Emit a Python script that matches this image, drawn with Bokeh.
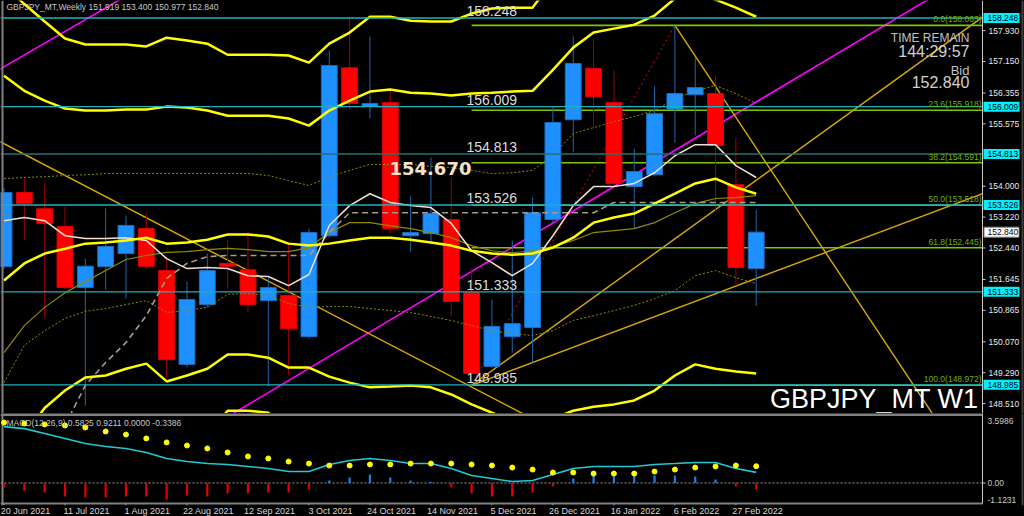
import math
from bokeh.plotting import figure
from bokeh.models import Range1d, FixedTicker, Label, ColumnDataSource
from bokeh.layouts import column
from bokeh.embed import file_html
from bokeh.resources import INLINE
from bokeh.core.properties import value

NaN = float("nan")

# ---------------- data (weekly GBPJPY, 20 Jun 2021 .. 6 Mar 2022) ----------------
date_tick_labels = ["20 Jun 2021", "11 Jul 2021", "1 Aug 2021", "22 Aug 2021", "12 Sep 2021",
                    "3 Oct 2021", "24 Oct 2021", "14 Nov 2021", "5 Dec 2021", "26 Dec 2021",
                    "16 Jan 2022", "6 Feb 2022", "27 Feb 2022"]

opens = [151.97, 153.84, 153.43, 152.98, 151.44, 151.97, 152.30, 152.93, 151.87, 149.50,
         151.01, 152.05, 151.89, 151.11, 151.24, 150.20, 152.75, 156.99, 156.01, 156.11,
         152.75, 152.80, 153.16, 151.31, 149.45, 150.20, 150.43, 153.16, 155.68, 156.97,
         156.11, 153.99, 154.29, 155.94, 156.31, 156.34, 154.04, 151.919]
highs = [153.95, 154.22, 154.07, 153.49, 152.17, 153.44, 153.26, 153.31, 152.20, 151.59,
         152.30, 152.65, 152.85, 151.69, 152.55, 152.93, 157.43, 158.23, 157.78, 156.47,
         153.74, 154.72, 154.22, 151.92, 151.14, 152.63, 153.71, 156.01, 157.78, 157.73,
         156.92, 154.95, 156.52, 158.063, 157.25, 156.79, 155.23, 153.400]
lows = [151.90, 152.63, 150.68, 151.40, 148.46, 151.39, 151.16, 151.92, 149.17, 149.42,
        150.94, 151.41, 150.81, 148.94, 149.22, 150.15, 152.70, 155.94, 155.71, 152.80,
        152.35, 152.53, 150.71, 148.972, 149.42, 149.80, 149.55, 153.06, 154.87, 155.48,
        154.02, 152.93, 154.25, 155.10, 155.28, 153.39, 151.49, 150.977]
closes = [153.84, 153.56, 153.06, 151.44, 151.98, 152.48, 153.01, 151.98, 149.62, 151.14,
          151.87, 151.98, 151.01, 151.44, 150.40, 152.83, 157.05, 156.09, 156.09, 152.93,
          152.83, 153.31, 151.09, 149.27, 150.46, 150.53, 153.33, 155.61, 157.10, 156.26,
          154.07, 154.37, 155.83, 156.34, 156.49, 155.03, 151.95, 152.840]

bb3_upper = [159.07, 158.60, 158.16, 157.73, 157.58, 157.58, 157.58, 157.53, 157.75, 157.68,
             157.60, 157.32, 157.32, 157.32, 157.30, 157.12, 157.60, 157.88, 158.28, 158.28,
             158.18, 158.16, 158.16, 158.36, 158.49, 158.51, 158.51, 159.20, 160.00, 160.50,
             160.70, 160.80, 160.90, 161.10, 161.20, 161.00, 160.60, 160.20]
bb3_lower = [144.1, 145.5, 146.5, 147.1, 147.5, 147.6, 147.7, 147.9, 147.4, 147.5,
             147.7, 148.33, 148.33, 148.28, 147.8, 147.9, 147.5, 147.4, 147.1, 147.1,
             147.1, 147.0, 146.8, 146.4, 146.1, 146.0, 146.1, 145.7, 145.4, 145.7,
             145.7, 145.8, 146.2, 146.5, 146.9, 147.4, 147.3, 147.4]
bb2_upper = [156.79, 156.41, 156.16, 155.96, 155.91, 155.91, 155.94, 155.94, 156.01, 155.99,
             155.91, 155.78, 155.78, 155.78, 155.71, 155.53, 155.91, 156.16, 156.39, 156.44,
             156.36, 156.34, 156.29, 156.34, 156.36, 156.39, 156.41, 156.94, 157.50, 157.88,
             157.98, 158.08, 158.31, 158.74, 158.89, 158.71, 158.51, 158.28]
bb_mid = [151.62, 152.05, 152.30, 152.42, 152.55, 152.58, 152.63, 152.70, 152.55, 152.58,
          152.65, 152.78, 152.78, 152.73, 152.55, 152.50, 152.55, 152.63, 152.70, 152.70,
          152.65, 152.58, 152.50, 152.37, 152.30, 152.27, 152.30, 152.45, 152.70, 153.08,
          153.21, 153.31, 153.56, 153.81, 154.07, 154.19, 153.97, 153.81]
bb2_lower = [146.50, 147.70, 148.40, 148.84, 149.17, 149.22, 149.39, 149.52, 149.07, 149.22,
             149.39, 149.75, 149.75, 149.67, 149.42, 149.42, 149.19, 149.04, 148.92, 148.94,
             148.97, 148.92, 148.74, 148.49, 148.28, 148.08, 147.96, 148.13, 148.33, 148.43,
             148.49, 148.59, 148.84, 149.22, 149.50, 149.39, 149.32, 149.27]
bb1_upper = [154.19, 154.22, 154.24, 154.27, 154.29, 154.32, 154.32, 154.32, 154.32, 154.32,
             154.32, 154.32, 154.32, 154.27, 154.14, 154.02, 154.24, 154.40, 154.55, 154.55,
             154.55, 154.50, 154.47, 154.40, 154.32, 154.34, 154.40, 154.77, 155.33, 155.48,
             155.63, 155.76, 155.91, 156.21, 156.41, 156.54, 156.34, 156.09]
bb1_lower = [149.04, 149.98, 150.35, 150.66, 150.84, 150.91, 151.01, 151.11, 150.81, 150.86,
             150.94, 151.27, 151.29, 151.24, 151.04, 150.94, 150.96, 150.96, 150.91, 150.86,
             150.81, 150.71, 150.61, 150.48, 150.35, 150.28, 150.23, 150.35, 150.61, 150.73,
             150.86, 150.99, 151.16, 151.36, 151.74, 151.87, 151.69, 151.54]
ma_slow = [149.80, 150.48, 150.94, 151.31, 151.59, 151.87, 152.15, 152.25, 152.33, 152.35,
           152.40, 152.43, 152.40, 152.35, 152.35, 152.45, 152.83, 153.08, 153.08, 153.00,
           152.93, 152.83, 152.70, 152.50, 152.37, 152.32, 152.37, 152.48, 152.63, 152.83,
           152.88, 152.93, 153.08, 153.33, 153.56, 153.69, 153.71, 153.76]
ma_fast = [153.13, 153.21, 153.13, 152.75, 152.68, 152.68, 152.70, 152.63, 152.17, 151.92,
           151.95, 151.92, 151.74, 151.72, 151.49, 151.77, 153.01, 153.51, 153.81, 153.59,
           153.51, 153.46, 153.06, 152.37, 152.07, 151.74, 152.05, 152.75, 153.51, 153.99,
           153.99, 154.07, 154.34, 154.77, 155.05, 155.05, 154.52, 154.22]
kijun = [NaN, NaN, NaN, 147.96, 148.97, 149.55, 150.05, 150.73, 151.67, 152.05,
         152.22, 152.25, 152.25, 152.25, 152.25, 152.25, 152.83, 153.33, 153.33, 153.33,
         153.33, 153.33, 153.33, 153.33, 153.33, 153.33, 153.33, 153.33, 153.33, 153.33,
         153.59, 153.59, 153.59, 153.59, 153.59, 153.59, 153.59, 153.59]

macd_main = [3.10, 2.99, 2.72, 2.45, 2.17, 2.01, 1.90, 1.68, 1.35, 1.18,
             1.07, 1.02, 0.91, 0.80, 0.63, 0.63, 1.02, 1.24, 1.35, 1.24,
             1.07, 1.07, 0.80, 0.41, 0.25, 0.08, 0.14, 0.47, 0.80, 0.91,
             0.91, 0.91, 1.02, 1.07, 1.13, 1.13, 0.80, 0.5825]
macd_signal = [3.32, 3.27, 3.22, 3.16, 3.05, 2.83, 2.66, 2.45, 2.23, 2.06,
               1.90, 1.68, 1.46, 1.35, 1.18, 1.07, 0.96, 0.96, 1.02, 1.02,
               1.07, 1.07, 1.07, 1.02, 0.96, 0.85, 0.74, 0.58, 0.58, 0.52,
               0.52, 0.52, 0.63, 0.74, 0.85, 0.91, 0.96, 0.9211]
macd_hist = [-0.25, -0.41, -0.52, -0.74, -0.80, -0.80, -0.74, -0.74, -0.91, -0.69,
             -0.74, -0.58, -0.58, -0.52, -0.52, -0.36, 0.14, 0.30, 0.47, 0.30,
             0.14, 0.05, -0.25, -0.58, -0.74, -0.74, -0.52, -0.19, 0.25, 0.47,
             0.47, 0.47, 0.41, 0.41, 0.36, 0.19, -0.19, -0.3386]
macd_axis_labels = [3.5986, 0.0, -1.1231]

level_prices = [158.248, 156.009, 154.813, 153.526, 151.333, 148.985]
level_labels = ["158.248", "156.009", "154.813", "153.526", "151.333", "148.985"]

fib_levels = [158.063, 155.918, 154.591, 153.518, 152.445, 148.972]
fib_labels = ["0.0(158.063)", "23.6(155.918)", "38.2(154.591)", "50.0(153.518)",
              "61.8(152.445)", "100.0(148.972)"]
fib_anchor = 23

price_ticks = [157.930, 157.150, 156.355, 155.575, 154.000, 153.220, 152.440,
               151.645, 150.865, 150.070, 149.290, 148.510]

# trend lines: (bar index, price) anchor pairs
trend_magenta_1 = ([-1, 10], [156.72, 159.99])
trend_magenta_2 = ([10, 49], [147.87, 159.80])
trend_gold_down_1 = ([-1, 30], [155.34, 147.06])
trend_gold_down_2 = ([33, 46], [158.063, 148.00])
trend_gold_up_1 = ([23, 49], [148.972, 158.59])
trend_gold_up_2 = ([23, 49], [148.972, 153.98])
trend_red_dots = ([23, 33], [148.972, 158.063])

header_text = "GBPJPY_MT,Weekly  151.919 153.400 150.977 152.840"
macd_text = "MACD(12,26,9) 0.5825 0.9211 0.0000 -0.3386"
bid_price = 152.840

# ---------------- geometry ----------------
FONT = "Liberation Sans"
PX = 20.33                      # pixels per weekly bar
X0 = -3.5 / PX                  # left edge of canvas
XR = X0 + 1024 / PX             # right edge of canvas
X_AXIS = (982 - 3.5) / PX       # price-scale line
GRAY = "#808080"
n = len(opens)
idx = list(range(n))
xr = Range1d(X0, XR)


def clip_to_axis(xs, ys):
    (xa, xb), (ya, yb) = xs, ys
    if xb > X_AXIS:
        yb = ya + (yb - ya) * (X_AXIS - xa) / (xb - xa)
        xb = X_AXIS
    return [xa, xb], [ya, yb]


def lab(fig, x, y, text, size, color, align="left", baseline="alphabetic", bold=False,
        font=FONT, xo=0, yo=0):
    fig.add_layout(Label(x=x, y=y, text=text, text_font=font, text_font_size=size,
                         text_color=color, text_align=align, text_baseline=baseline,
                         text_font_style="bold" if bold else "normal",
                         x_offset=xo, y_offset=yo))


def base_fig(height, yr, **kw):
    f = figure(frame_width=1024, frame_height=height, x_range=xr, y_range=yr,
               output_backend="svg", toolbar_location=None,
               background_fill_color="black", border_fill_color="black",
               min_border_left=0, min_border_right=0, min_border_top=0, min_border_bottom=0,
               outline_line_color=None, **kw)
    f.grid.visible = False
    return f


# ---------------- price panel ----------------
P_LO, P_HI = 148.26, 158.69
p = base_fig(413, Range1d(P_LO, P_HI), x_axis_location=None, y_axis_location=None)

bull = [c >= o for o, c in zip(opens, closes)]
src = ColumnDataSource(dict(
    x=idx, h=highs, l=lows,
    top=[max(o, c) for o, c in zip(opens, closes)],
    bottom=[min(o, c) for o, c in zip(opens, closes)],
    fill=["#1e90ff" if b else "#ff0000" for b in bull],
    edge=["#1a6fc4" if b else "#e00000" for b in bull],
    wick=["#2266aa" if b else "#a00000" for b in bull],
))

# trend lines
p.line(*clip_to_axis(*trend_magenta_1), line_color="#ff00ff", line_width=1.6)
p.line(*clip_to_axis(*trend_magenta_2), line_color="#ff00ff", line_width=1.6)
for t in (trend_gold_down_1, trend_gold_down_2, trend_gold_up_1, trend_gold_up_2):
    p.line(*clip_to_axis(*t), line_color="#dcaa00", line_width=1.4)
p.line(*trend_red_dots, line_color="#b00000", line_width=1.2, line_dash="2 3")

# fibonacci levels
p.segment(x0=[fib_anchor] * len(fib_levels), y0=fib_levels, x1=[X_AXIS] * len(fib_levels),
          y1=fib_levels, line_color="#7cc800", line_width=1.6)

# candles
p.segment(x0="x", y0="h", x1="x", y1="l", line_color="wick", line_width=1, source=src)
p.vbar(x="x", width=0.78, top="top", bottom="bottom", fill_color="fill", line_color="edge",
       line_width=1, source=src)

# indicators
p.line(idx, bb1_upper, line_color="#8c8c00", line_width=1, line_dash="2 2")
p.line(idx, bb1_lower, line_color="#8c8c00", line_width=1, line_dash="2 2")
p.line(idx, ma_slow, line_color="#8c8c00", line_width=1.2)
p.line(idx, kijun, line_color="#a89a8a", line_width=1.6, line_dash="6 4")
p.line(idx, ma_fast, line_color="#f0e0d0", line_width=1.5)
for s in (bb3_upper, bb3_lower, bb2_upper, bb_mid, bb2_lower):
    p.line(idx, s, line_color="#ffff00", line_width=2.5)

# horizontal levels
lvl_colors = ["#2a6e6e" if lv == 154.813 else "#1fb0c0" for lv in level_prices]
p.segment(x0=[X0] * len(level_prices), y0=level_prices, x1=[X_AXIS] * len(level_prices),
          y1=level_prices, line_color=lvl_colors, line_width=1.3)

# price scale (line, ticks, labels)
p.segment(x0=[X_AXIS], y0=[P_LO], x1=[X_AXIS], y1=[P_HI], line_color="#c8c8c8", line_width=1)
p.segment(x0=[X_AXIS] * len(price_ticks), y0=price_ticks,
          x1=[X_AXIS + 3 / PX] * len(price_ticks), y1=price_ticks,
          line_color="#c8c8c8", line_width=1)
p.text(x=[X_AXIS + 6 / PX] * len(price_ticks), y=price_ticks,
       text=["%.3f" % v for v in price_ticks], text_font=value(FONT),
       text_font_size=value("8.5px"), text_color="#e8e8e8", text_baseline="middle")

# highlighted scale labels
box_x = X_AXIS + 19 / PX
p.rect(x=[box_x] * len(level_prices), y=level_prices, width=36, height=10,
       width_units="screen", height_units="screen", fill_color="#00f0ff", line_color=None)
p.text(x=[X_AXIS + 5 / PX] * len(level_prices), y=level_prices, text=level_labels,
       text_font=value(FONT), text_font_size=value("8.5px"), text_color="black",
       text_baseline="middle")
p.rect(x=[box_x], y=[bid_price], width=35, height=10, width_units="screen",
       height_units="screen", fill_color="white", line_color=GRAY)
p.text(x=[X_AXIS + 5 / PX], y=[bid_price], text=["%.3f" % bid_price],
       text_font=value(FONT), text_font_size=value("8.5px"), text_color="black",
       text_baseline="middle")

# frame lines
p.segment(x0=[-1.5 / PX, (1022 - 3.5) / PX], y0=[P_LO, P_LO], x1=[-1.5 / PX, (1022 - 3.5) / PX],
          y1=[P_HI, P_HI], line_color=[GRAY, "#404040"], line_width=2)

# texts
for lv, tx in zip(level_prices, level_labels):
    lab(p, 22.75, lv, tx, "14px", "#dcdcdc", baseline="bottom", yo=2)
for lv, tx in zip(fib_levels, fib_labels):
    lab(p, 48.08, lv, tx, "8.5px", "#70b000", align="right", baseline="bottom", yo=1)

lab(p, 0.12, 158.64, header_text, "8.5px", "#c8c8c8", baseline="top")
lab(p, 47.49, 157.63, "TIME REMAIN", "12px", "#c0c0c0", align="right", yo=4)
lab(p, 47.49, 157.25, "144:29:57", "16px", "#d0d0d0", align="right", yo=6)
lab(p, 47.49, 156.79, "Bid", "13px", "#c0c0c0", align="right", yo=5)
lab(p, 47.49, 156.47, "%.3f" % bid_price, "16px", "#d0d0d0", align="right", yo=6)
lab(p, 47.93, 148.36, "GBPJPY_MT W1", "27px", "white", align="right", yo=11)
lab(p, 18.96, 154.24, "154.670", "18px", "#f5e1c8", bold=True, font="DejaVu Sans", yo=8)

# ---------------- MACD panel ----------------
M_LO, M_HI = -1.236, 3.82
M_BOTTOM = -1.13
LABEL_SHIFT = 1.06              # date labels start at their tick
m = base_fig(92, Range1d(M_LO, M_HI), x_axis_location="below", y_axis_location=None)
mx = m.xaxis[0]
date_ticks = list(range(0, 3 * len(date_tick_labels), 3))
label_pos = [round(t + LABEL_SHIFT, 2) for t in date_ticks]
mx.ticker = FixedTicker(ticks=label_pos)
mx.major_label_overrides = {t: s for t, s in zip(label_pos, date_tick_labels)}
mx.axis_line_color = None
mx.major_tick_line_color = None
mx.major_tick_in = 0
mx.major_tick_out = 0
mx.minor_tick_line_color = None
mx.major_label_text_color = "#d8d8d8"
mx.major_label_text_font = FONT
mx.major_label_text_font_size = "9px"
mx.major_label_standoff = 0

# panel borders
m.segment(x0=[X0], y0=[M_HI], x1=[X_AXIS], y1=[M_HI], line_color=GRAY, line_width=5)
m.segment(x0=[X0], y0=[M_BOTTOM], x1=[X_AXIS], y1=[M_BOTTOM], line_color=GRAY, line_width=2)
m.segment(x0=[-1.5 / PX, (1022 - 3.5) / PX], y0=[M_LO, M_LO], x1=[-1.5 / PX, (1022 - 3.5) / PX],
          y1=[M_HI, M_HI], line_color=[GRAY, "#404040"], line_width=2)
m.segment(x0=[X_AXIS], y0=[M_BOTTOM], x1=[X_AXIS], y1=[M_HI], line_color="#c8c8c8", line_width=1)
# date tick marks
m.segment(x0=date_ticks, y0=[M_BOTTOM] * len(date_ticks), x1=date_ticks,
          y1=[M_LO] * len(date_ticks), line_color="#a0a0a0", line_width=1)

m.segment(x0=[X0], y0=[0], x1=[X_AXIS], y1=[0], line_color="#a0a0a0", line_dash="2 2",
          line_width=1)
m.segment(x0=[X_AXIS], y0=[0], x1=[X_AXIS + 3 / PX], y1=[0], line_color="#c8c8c8")
m.vbar(x=idx, width=0.11, top=[max(v, 0) for v in macd_hist],
       bottom=[min(v, 0) for v in macd_hist],
       fill_color=["#1e7fd8" if v > 0 else "#e00000" for v in macd_hist], line_color=None)
m.line(idx, macd_main, line_color="#22c8d2", line_width=1.6)
m.scatter(idx, macd_signal, size=5, fill_color="#ffff00", line_color="#ffff00")

m.text(x=[X_AXIS + 5 / PX] * 3, y=macd_axis_labels,
       text=["%.4f" % macd_axis_labels[0], "%.2f" % macd_axis_labels[1], "%.4f" % macd_axis_labels[2]],
       text_font=value(FONT), text_font_size=value("8.5px"), text_color="#c8c8c8",
       text_baseline=["top", "middle", "bottom"])
lab(m, 0.12, 3.58, macd_text, "8.5px", "#c8c8c8", baseline="top")

layout = column(p, m, spacing=0, styles={"background-color": "black"})
open("out.html", "w").write(file_html(layout, INLINE))
